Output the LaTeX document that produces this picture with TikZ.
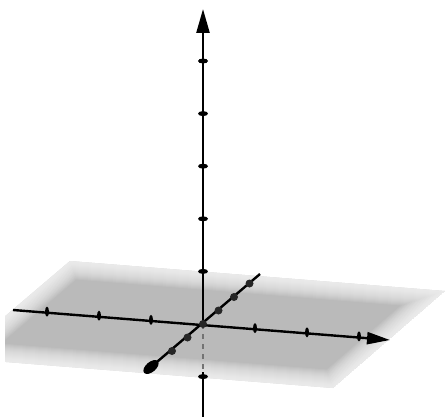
\documentclass[tikz,border=0pt]{standalone}
\usetikzlibrary{arrows.meta,calc,shapes.geometric}
\tikzset{
    axis/.style={line width=2.4pt, black},
    xdash/.style={ellipse, fill=black, inner sep=0pt, minimum width=4pt, minimum height=10pt},
    zdash/.style={ellipse, fill=black, inner sep=0pt, minimum width=10pt, minimum height=5pt},
    ydot/.style={circle, fill=black!85, inner sep=0pt, minimum size=8pt},
}
\begin{document}
\begin{tikzpicture}[x=1pt,y=-1pt]
    \useasboundingbox (0,0) rectangle (446,417);

    % The plane
    \begin{scope}
        \clip (5,0) rectangle (446,417);
        \clip (70,261) -- (445,291) -- (333,388) -- (-44,358) -- cycle;
        \fill[black!27] (70,261) -- (445,291) -- (333,388) -- (-44,358) -- cycle;
        \foreach \w in {2,4,...,36}
            \draw[white, opacity=0.08, line width=\w pt, line join=round]
                (70,261) -- (445,291) -- (333,388) -- (-44,358) -- cycle;
    \end{scope}

    % Ends of the axes
    \coordinate (O) at (203,324);
    \coordinate (ztop) at (203,9);
    \coordinate (zin) at (203,372);
    \coordinate (zbot) at (203,417);
    \coordinate (xleft) at (13,310);
    \coordinate (xright) at (390,340);
    \coordinate (yback) at (260,274);
    \coordinate (yfront) at (151,367);

    % The axes
    \draw[axis, -{Triangle[length=24pt,width=13pt]}] (O) -- (ztop);
    \draw[axis, black!55, dash pattern=on 5pt off 5pt] (O) -- (zin);
    \draw[axis] (zin) -- (zbot);
    \draw[axis, -{Triangle[length=23pt,width=12pt]}] (xleft) -- (xright);
    \draw[axis] (yback) -- (yfront);
    \node[ellipse, fill=black, inner sep=0pt, minimum width=18pt, minimum height=10pt, rotate=40] (yhead) at (yfront) {};

    % Ticks
    \foreach \k in {-3,-2,-1,1,2,3}
        \node[xdash] (xt\k) at ($(O)+(\k*52,\k*4.14)$) {};
    \foreach \k in {1,-1,-2,-3,-4,-5}
        \node[zdash] (zt\k) at ($(O)+(0,\k*52.6)$) {};
    \foreach \k in {-2,-1,0,1,2,3}
        \node[ydot] (yt\k) at ($(O)+(\k*15.5,-\k*13.5)$) {};
\end{tikzpicture}
\end{document}
